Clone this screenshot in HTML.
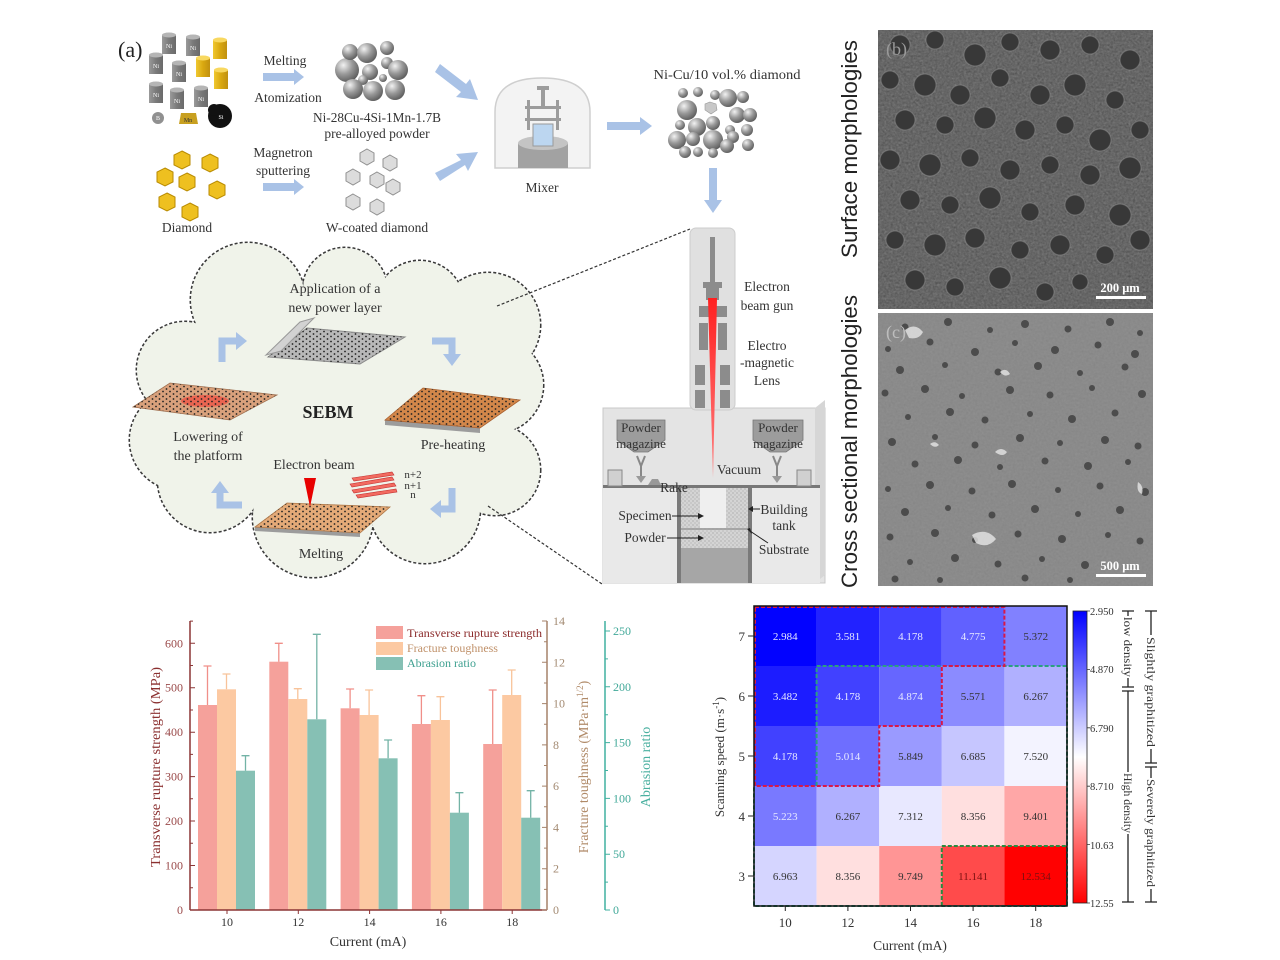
<!DOCTYPE html>
<html><head><meta charset="utf-8"><style>
html,body{margin:0;padding:0;background:#fff;}
svg{display:block;}
text{font-family:"Liberation Serif",serif;}
</style></head><body>
<svg width="1280" height="960" viewBox="0 0 1280 960" xmlns="http://www.w3.org/2000/svg">
<defs>
  <radialGradient id="sph" cx="0.35" cy="0.3" r="0.75">
    <stop offset="0" stop-color="#f2f2f2"/><stop offset="0.5" stop-color="#9a9a9a"/><stop offset="1" stop-color="#5a5a5a"/>
  </radialGradient>
  <linearGradient id="cylNi" x1="0" x2="1"><stop offset="0" stop-color="#9a9a9a"/><stop offset="0.5" stop-color="#7a7a7a"/><stop offset="1" stop-color="#6a6a6a"/></linearGradient>
  <linearGradient id="cylCu" x1="0" x2="1"><stop offset="0" stop-color="#f0c830"/><stop offset="0.5" stop-color="#d9a810"/><stop offset="1" stop-color="#c09010"/></linearGradient>
  <linearGradient id="beam" x1="0" x2="0" y1="0" y2="1"><stop offset="0" stop-color="#ff2020"/><stop offset="1" stop-color="#ff8080"/></linearGradient>
  <linearGradient id="cbar" x1="0" x2="0" y1="0" y2="1">
    <stop offset="0" stop-color="#0000ff"/><stop offset="0.5" stop-color="#ffffff"/><stop offset="1" stop-color="#ff0000"/>
  </linearGradient>
  <pattern id="dots" width="7" height="5" patternUnits="userSpaceOnUse">
    <circle cx="2" cy="1.5" r="0.9" fill="#222"/><circle cx="5.5" cy="4" r="0.9" fill="#222"/>
  </pattern>
  <pattern id="speck" width="4" height="4" patternUnits="userSpaceOnUse">
    <rect width="4" height="4" fill="#d4d4d4"/><circle cx="1" cy="1" r="0.6" fill="#9a9a9a"/><circle cx="3" cy="3" r="0.6" fill="#aaa"/>
  </pattern>
  <filter id="noise" x="0" y="0" width="1" height="1" color-interpolation-filters="sRGB">
    <feTurbulence type="fractalNoise" baseFrequency="0.45" numOctaves="2" seed="4"/>
    <feColorMatrix type="matrix" values="0.33 0.33 0.33 0 0  0.33 0.33 0.33 0 0  0.33 0.33 0.33 0 0  0 0 0 0 1"/>
  </filter>
  <g id="cloudc">
    <circle cx="248" cy="300" r="57"/><circle cx="345" cy="290" r="42"/><circle cx="420" cy="305" r="44"/>
    <circle cx="488" cy="325" r="52"/><circle cx="495" cy="385" r="48"/><circle cx="495" cy="470" r="45"/>
    <circle cx="425" cy="508" r="55"/><circle cx="313" cy="517" r="60"/><circle cx="210" cy="480" r="52"/>
    <circle cx="180" cy="440" r="50"/><circle cx="185" cy="370" r="48"/>
  </g>
</defs>
<rect width="1280" height="960" fill="#fff"/>

<!-- ===== (a) top row ===== -->
<text x="118" y="57" font-size="22" fill="#222">(a)</text>
<g font-size="6" fill="#fff" text-anchor="middle">
  <g><rect x="162" y="35" width="14" height="19" fill="url(#cylNi)"/><ellipse cx="169" cy="35" rx="7" ry="2.5" fill="#b5b5b5"/><text x="169" y="48">Ni</text></g>
  <g><rect x="186" y="37" width="14" height="19" fill="url(#cylNi)"/><ellipse cx="193" cy="37" rx="7" ry="2.5" fill="#b5b5b5"/><text x="193" y="50">Ni</text></g>
  <g><rect x="213" y="40" width="14" height="19" fill="url(#cylCu)"/><ellipse cx="220" cy="40" rx="7" ry="2.5" fill="#f8d860"/></g>
  <g><rect x="149" y="55" width="14" height="19" fill="url(#cylNi)"/><ellipse cx="156" cy="55" rx="7" ry="2.5" fill="#b5b5b5"/><text x="156" y="68">Ni</text></g>
  <g><rect x="172" y="63" width="14" height="19" fill="url(#cylNi)"/><ellipse cx="179" cy="63" rx="7" ry="2.5" fill="#b5b5b5"/><text x="179" y="76">Ni</text></g>
  <g><rect x="196" y="58" width="14" height="19" fill="url(#cylCu)"/><ellipse cx="203" cy="58" rx="7" ry="2.5" fill="#f8d860"/></g>
  <g><rect x="214" y="70" width="14" height="19" fill="url(#cylCu)"/><ellipse cx="221" cy="70" rx="7" ry="2.5" fill="#f8d860"/></g>
  <g><rect x="149" y="84" width="14" height="19" fill="url(#cylNi)"/><ellipse cx="156" cy="84" rx="7" ry="2.5" fill="#b5b5b5"/><text x="156" y="97">Ni</text></g>
  <g><rect x="170" y="90" width="14" height="19" fill="url(#cylNi)"/><ellipse cx="177" cy="90" rx="7" ry="2.5" fill="#b5b5b5"/><text x="177" y="103">Ni</text></g>
  <g><rect x="194" y="88" width="14" height="19" fill="url(#cylNi)"/><ellipse cx="201" cy="88" rx="7" ry="2.5" fill="#b5b5b5"/><text x="201" y="101">Ni</text></g>
  <circle cx="158" cy="118" r="6" fill="#909090"/><text x="158" y="120">B</text>
  <polygon points="179,124 181,113 196,113 198,124" fill="#c8a020"/><text x="188" y="122" fill="#333">Mn</text>
  <circle cx="220" cy="116" r="12" fill="#111"/><circle cx="214" cy="110" r="6" fill="#111"/><text x="221" y="119">Si</text>
</g>
<g fill="#a9c2e6">
  <polygon points="263,73 294,73 294,69 304,77 294,85 294,81 263,81"/>
  <polygon points="263,183 294,183 294,179 304,187 294,195 294,191 263,191"/>
  <polygon points="440,64 466,84 470,79 478,100 456,97 461,92 435,72"/>
  <polygon points="435,173 461,160 456,154 478,152 468,171 465,165 440,181"/>
  <polygon points="607,122 640,122 640,117 652,126 640,135 640,130 607,130"/>
  <polygon points="709,168 717,168 717,200 722,200 713,213 704,200 709,200"/>
</g>
<g font-size="13.5" fill="#333" text-anchor="middle">
  <text x="285" y="65">Melting</text>
  <text x="288" y="102">Atomization</text>
  <text x="377" y="122" textLength="128" lengthAdjust="spacingAndGlyphs">Ni-28Cu-4Si-1Mn-1.7B</text>
  <text x="377" y="138">pre-alloyed powder</text>
  <text x="283" y="157">Magnetron</text>
  <text x="283" y="175">sputtering</text>
  <text x="187" y="232">Diamond</text>
  <text x="377" y="232">W-coated diamond</text>
  <text x="542" y="192">Mixer</text>
  <text x="727" y="79" textLength="147" lengthAdjust="spacingAndGlyphs">Ni-Cu/10 vol.% diamond</text>
</g>
<g fill="url(#sph)">
  <circle cx="347" cy="70" r="12"/><circle cx="350" cy="52" r="8"/><circle cx="367" cy="53" r="10"/><circle cx="387" cy="48" r="7"/>
  <circle cx="370" cy="72" r="8"/><circle cx="387" cy="63" r="6"/><circle cx="398" cy="70" r="10"/><circle cx="363" cy="80" r="5"/>
  <circle cx="383" cy="78" r="4"/><circle cx="353" cy="89" r="10"/><circle cx="373" cy="91" r="10"/><circle cx="395" cy="90" r="10"/>
</g>
<g fill="url(#sph)">
  <circle cx="683" cy="93" r="5"/><circle cx="698" cy="92" r="5"/><circle cx="715" cy="95" r="5"/><circle cx="728" cy="98" r="9"/>
  <circle cx="743" cy="97" r="6"/><circle cx="687" cy="110" r="10"/><circle cx="737" cy="115" r="8"/><circle cx="750" cy="115" r="7"/>
  <circle cx="680" cy="125" r="5"/><circle cx="697" cy="127" r="9"/><circle cx="713" cy="123" r="7"/><circle cx="730" cy="130" r="5"/>
  <circle cx="747" cy="130" r="6"/><circle cx="677" cy="140" r="9"/><circle cx="693" cy="139" r="7"/><circle cx="713" cy="140" r="10"/>
  <circle cx="733" cy="137" r="6"/><circle cx="748" cy="145" r="6"/><circle cx="685" cy="152" r="6"/><circle cx="698" cy="152" r="5"/>
  <circle cx="727" cy="146" r="7"/><circle cx="713" cy="153" r="5"/>
</g>
<polygon points="710,102 716,104 717,110 711,114 705,110 705,104" fill="#c8c8c8" stroke="#999" stroke-width="0.6"/>
<g fill="#eec020" stroke="#b88a00" stroke-width="1">
  <polygon points="182,151 190,155 190,165 182,169 174,165 174,155"/>
  <polygon points="210,154 218,158 218,168 210,172 202,168 202,158"/>
  <polygon points="165,168 173,172 173,182 165,186 157,182 157,172"/>
  <polygon points="187,173 195,177 195,187 187,191 179,187 179,177"/>
  <polygon points="217,181 225,185 225,195 217,199 209,195 209,185"/>
  <polygon points="167,193 175,197 175,207 167,211 159,207 159,197"/>
  <polygon points="190,203 198,207 198,217 190,221 182,217 182,207"/>
</g>
<g fill="#dcdcdc" stroke="#909090" stroke-width="1">
  <polygon points="367,149 374,153 374,161 367,165 360,161 360,153"/>
  <polygon points="390,155 397,159 397,167 390,171 383,167 383,159"/>
  <polygon points="353,169 360,173 360,181 353,185 346,181 346,173"/>
  <polygon points="377,172 384,176 384,184 377,188 370,184 370,176"/>
  <polygon points="393,179 400,183 400,191 393,195 386,191 386,183"/>
  <polygon points="353,194 360,198 360,206 353,210 346,206 346,198"/>
  <polygon points="377,199 384,203 384,211 377,215 370,211 370,203"/>
</g>
<path d="M495,168 L495,112 Q495,78 542,78 Q590,78 590,112 L590,168 Z" fill="#f3f3f3" stroke="#cfcfcf" stroke-width="1.5"/>
<rect x="518" y="143" width="50" height="25" fill="#a2a2a2"/>
<ellipse cx="543" cy="143" rx="25" ry="7" fill="#c4c4c4"/>
<rect x="533" y="124" width="20" height="22" fill="#bcd6f0" stroke="#9a9a9a" stroke-width="1"/>
<g fill="#9c9c9c">
  <rect x="527" y="100" width="3" height="30"/><rect x="556" y="100" width="3" height="30"/>
  <rect x="525" y="106" width="36" height="3"/><rect x="525" y="118" width="36" height="3"/>
  <rect x="541" y="88" width="4" height="20"/><rect x="537" y="86" width="12" height="4"/>
</g>

<!-- ===== Cloud ===== -->
<use href="#cloudc" fill="none" stroke="#3a3a3a" stroke-width="3" stroke-dasharray="3 2"/>
<use href="#cloudc" fill="#f0f3ea"/>
<ellipse cx="335" cy="410" rx="160" ry="110" fill="#f0f3ea"/>
<polygon points="268,357 307,328 405,337 360,364" fill="#b8b8b8" stroke="#8a8a8a" stroke-width="1"/>
<polygon points="268,357 307,328 405,337 360,364" fill="url(#dots)"/>
<polygon points="266,355 300,322 314,318 281,351" fill="#d2d2d2" stroke="#999" stroke-width="1"/>
<polygon points="133,407 170,383 277,395 230,420" fill="#d9a17c" stroke="#a07050" stroke-width="0.8"/>
<ellipse cx="205" cy="401" rx="24" ry="6" fill="#ec5a4a" opacity="0.85"/>
<polygon points="133,407 170,383 277,395 230,420" fill="url(#dots)"/>
<polygon points="385,420 480,428 480,433 385,425" fill="#9c9c9c"/>
<polygon points="385,420 423,388 520,400 480,428" fill="#d3874a" stroke="#a86030" stroke-width="0.8"/>
<polygon points="385,420 423,388 520,400 480,428" fill="url(#dots)"/>
<polygon points="255,527 360,533 360,537 255,531" fill="#9c9c9c"/>
<polygon points="255,527 287,503 390,507 360,533" fill="#e4aa78" stroke="#b07848" stroke-width="0.8"/>
<polygon points="255,527 287,503 390,507 360,533" fill="url(#dots)"/>
<polygon points="304,478 316,478 310,507" fill="#e80000"/>
<g fill="#f26a60" stroke="#c03030" stroke-width="0.6">
  <polygon points="352,478 392,472 394,475 354,481"/>
  <polygon points="350,484 392,477 394,480 352,487"/>
  <polygon points="352,490 394,483 396,486 354,493"/>
  <polygon points="356,495 396,489 397,492 358,498"/>
</g>
<g stroke="#a9c2e6" stroke-width="7" fill="none">
  <polyline points="222,362 222,341 237,341"/>
  <polyline points="432,341 452,341 452,355"/>
  <polyline points="452,488 452,509 440,509"/>
  <polyline points="242,505 220,505 220,492"/>
</g>
<g fill="#a9c2e6">
  <polygon points="236,332 247,341 236,350"/>
  <polygon points="443,354 452,366 461,354"/>
  <polygon points="441,500 430,509 441,518"/>
  <polygon points="211,493 220,481 229,493"/>
</g>
<g font-size="14" fill="#333" text-anchor="middle">
  <text x="335" y="293">Application of a</text>
  <text x="335" y="312">new power layer</text>
  <text x="328" y="418" font-size="18" font-weight="bold" fill="#222">SEBM</text>
  <text x="208" y="441">Lowering of</text>
  <text x="208" y="460">the platform</text>
  <text x="453" y="449">Pre-heating</text>
  <text x="314" y="469">Electron beam</text>
  <text x="321" y="558">Melting</text>
  <text x="413" y="478" font-size="11">n+2</text>
  <text x="413" y="489" font-size="11">n+1</text>
  <text x="413" y="498" font-size="11">n</text>
</g>
<g stroke="#333" stroke-width="1.2" stroke-dasharray="3 2">
  <line x1="497" y1="306" x2="690" y2="229"/>
  <line x1="488" y1="506" x2="602" y2="584"/>
</g>

<!-- ===== Machine ===== -->
<rect x="603" y="408" width="222" height="175" fill="#e4e4e4" stroke="#c8c8c8"/>
<polygon points="815,408 825,400 825,575 815,583" fill="#d6d6d6"/>
<rect x="603" y="487" width="217" height="96" fill="#e9e9e9"/>
<rect x="690" y="228" width="45" height="182" rx="6" fill="#e0e0e0" stroke="#cdcdcd"/>
<g fill="#8c8c8c">
  <rect x="710" y="237" width="5" height="45"/>
  <rect x="703" y="282" width="19" height="6"/>
  <rect x="706" y="288" width="13" height="12"/>
  <rect x="699" y="306" width="28" height="11"/>
  <rect x="699" y="323" width="9" height="27"/><rect x="718" y="323" width="9" height="27"/>
  <rect x="695" y="365" width="10" height="20"/><rect x="720" y="365" width="10" height="20"/>
  <rect x="695" y="390" width="10" height="18"/><rect x="720" y="390" width="10" height="18"/>
</g>
<polygon points="708,298 717,298 713,478" fill="url(#beam)"/>
<rect x="603" y="485" width="217" height="3" fill="#777"/>
<g fill="#9c9c9c" stroke="#777" stroke-width="0.8">
  <polygon points="617,420 665,420 665,440 648,452 634,452 617,440"/>
  <polygon points="753,420 803,420 803,440 786,452 770,452 753,440"/>
</g>
<g stroke="#888" stroke-width="2" fill="none">
  <polyline points="637,456 641,466 645,456"/><line x1="641" y1="466" x2="641" y2="478"/>
  <polyline points="773,456 777,466 781,456"/><line x1="777" y1="466" x2="777" y2="478"/>
</g>
<g fill="#999"><polygon points="636,476 646,476 641,483"/><polygon points="772,476 782,476 777,483"/></g>
<rect x="608" y="470" width="14" height="16" fill="#d0d0d0" stroke="#888"/>
<rect x="797" y="470" width="14" height="16" fill="#d0d0d0" stroke="#888"/>
<polygon points="648,485 652,479 658,479 661,485" fill="#999"/>
<rect x="677" y="488" width="4" height="95" fill="#7a7a7a"/><rect x="748" y="488" width="4" height="95" fill="#7a7a7a"/>
<rect x="681" y="488" width="67" height="60" fill="url(#speck)"/>
<rect x="700" y="488" width="26" height="40" fill="#efefef"/>
<line x1="681" y1="529" x2="748" y2="529" stroke="#777" stroke-width="1"/>
<rect x="681" y="548" width="67" height="35" fill="#a6a6a6"/>
<g stroke="#222" stroke-width="1">
  <line x1="672" y1="516" x2="698" y2="516"/><line x1="667" y1="538" x2="698" y2="538"/>
  <line x1="760" y1="509" x2="752" y2="509"/><line x1="768" y1="543" x2="750" y2="531"/>
</g>
<g fill="#222"><polygon points="698,513 704,516 698,519"/><polygon points="698,535 704,538 698,541"/><polygon points="753,506 748,509 753,512"/><polygon points="750,528 747,529 752,534"/></g>
<g font-size="13.5" fill="#333" text-anchor="middle">
  <text x="767" y="291">Electron</text><text x="767" y="310">beam gun</text>
  <text x="767" y="350">Electro</text><text x="767" y="367">-magnetic</text><text x="767" y="385">Lens</text>
  <text x="641" y="432" font-size="13">Powder</text><text x="641" y="448" font-size="13">magazine</text>
  <text x="778" y="432" font-size="13">Powder</text><text x="778" y="448" font-size="13">magazine</text>
  <text x="739" y="474">Vacuum</text>
  <text x="674" y="492">Rake</text>
  <text x="645" y="520">Specimen</text>
  <text x="645" y="542">Powder</text>
  <text x="784" y="514">Building</text><text x="784" y="530">tank</text>
  <text x="784" y="554">Substrate</text>
</g>

<!-- ===== SEM panels ===== -->
<text transform="translate(857,258) rotate(-90)" font-size="22" fill="#222" style="font-family:'Liberation Sans',sans-serif" textLength="218" lengthAdjust="spacingAndGlyphs">Surface morphologies</text>
<text transform="translate(857,588) rotate(-90)" font-size="22" fill="#222" style="font-family:'Liberation Sans',sans-serif" textLength="293" lengthAdjust="spacingAndGlyphs">Cross sectional morphologies</text>
<rect x="878" y="30" width="275" height="279" fill="#5c5c5c"/>
<rect x="878" y="30" width="275" height="279" filter="url(#noise)" opacity="0.3"/>
<g fill="#383838" stroke="#a8a8a8" stroke-width="1.2" stroke-opacity="0.35">
<circle cx="900" cy="45" r="10"/><circle cx="935" cy="40" r="9"/><circle cx="975" cy="55" r="11"/><circle cx="1010" cy="42" r="9"/><circle cx="1050" cy="50" r="10"/><circle cx="1090" cy="45" r="9"/><circle cx="1130" cy="60" r="10"/>
<circle cx="890" cy="80" r="9"/><circle cx="925" cy="85" r="11"/><circle cx="960" cy="95" r="10"/><circle cx="1000" cy="78" r="9"/><circle cx="1040" cy="95" r="10"/><circle cx="1075" cy="85" r="11"/><circle cx="1115" cy="100" r="9"/>
<circle cx="905" cy="120" r="10"/><circle cx="945" cy="125" r="9"/><circle cx="985" cy="118" r="11"/><circle cx="1025" cy="130" r="10"/><circle cx="1065" cy="125" r="9"/><circle cx="1100" cy="140" r="11"/><circle cx="1140" cy="130" r="9"/>
<circle cx="890" cy="160" r="10"/><circle cx="930" cy="165" r="11"/><circle cx="970" cy="158" r="9"/><circle cx="1010" cy="170" r="10"/><circle cx="1050" cy="165" r="9"/><circle cx="1090" cy="175" r="10"/><circle cx="1130" cy="168" r="11"/>
<circle cx="910" cy="200" r="10"/><circle cx="950" cy="205" r="9"/><circle cx="990" cy="198" r="11"/><circle cx="1030" cy="212" r="9"/><circle cx="1075" cy="205" r="10"/><circle cx="1120" cy="215" r="11"/>
<circle cx="895" cy="240" r="9"/><circle cx="935" cy="245" r="11"/><circle cx="975" cy="238" r="10"/><circle cx="1020" cy="250" r="9"/><circle cx="1060" cy="245" r="10"/><circle cx="1105" cy="255" r="9"/><circle cx="1140" cy="240" r="10"/>
<circle cx="915" cy="280" r="10"/><circle cx="955" cy="287" r="9"/><circle cx="1000" cy="278" r="11"/><circle cx="1045" cy="292" r="9"/><circle cx="1080" cy="282" r="8"/>
</g>
<text x="886" y="55" font-size="18" fill="#9a9a9a">(b)</text>
<text x="1120" y="292" font-size="12.5" font-weight="bold" fill="#fff" text-anchor="middle">200 μm</text>
<rect x="1096" y="296" width="50" height="3" fill="#fff"/>

<rect x="878" y="313" width="275" height="273" fill="#8c8c8c"/>
<rect x="878" y="313" width="275" height="273" filter="url(#noise)" opacity="0.08"/>
<g fill="#4c4c4c">
<circle cx="905" cy="327" r="3.5"/><circle cx="948" cy="322" r="4"/><circle cx="990" cy="330" r="3"/><circle cx="1025" cy="324" r="4"/><circle cx="1068" cy="329" r="3.5"/><circle cx="1110" cy="322" r="4"/><circle cx="1140" cy="333" r="3"/>
<circle cx="888" cy="349" r="3"/><circle cx="930" cy="342" r="3.5"/><circle cx="975" cy="352" r="4"/><circle cx="1015" cy="343" r="3"/><circle cx="1055" cy="350" r="4"/><circle cx="1098" cy="345" r="3.5"/><circle cx="1135" cy="354" r="4"/>
<circle cx="900" cy="370" r="4"/><circle cx="945" cy="365" r="3"/><circle cx="998" cy="372" r="3.5"/><circle cx="1038" cy="366" r="4"/><circle cx="1080" cy="373" r="3"/><circle cx="1125" cy="367" r="3.5"/>
<circle cx="885" cy="393" r="3.5"/><circle cx="925" cy="389" r="4"/><circle cx="962" cy="396" r="3"/><circle cx="1010" cy="390" r="4"/><circle cx="1050" cy="395" r="3.5"/><circle cx="1092" cy="388" r="3"/><circle cx="1142" cy="394" r="4"/>
<circle cx="908" cy="417" r="3"/><circle cx="950" cy="412" r="4"/><circle cx="985" cy="420" r="3.5"/><circle cx="1030" cy="414" r="3"/><circle cx="1072" cy="419" r="4"/><circle cx="1115" cy="413" r="3.5"/>
<circle cx="892" cy="442" r="4"/><circle cx="935" cy="437" r="3"/><circle cx="975" cy="445" r="3.5"/><circle cx="1020" cy="438" r="4"/><circle cx="1060" cy="443" r="3"/><circle cx="1105" cy="440" r="4"/><circle cx="1138" cy="446" r="3.5"/>
<circle cx="915" cy="464" r="3.5"/><circle cx="958" cy="460" r="4"/><circle cx="1000" cy="467" r="3"/><circle cx="1045" cy="461" r="3.5"/><circle cx="1088" cy="466" r="4"/><circle cx="1128" cy="462" r="3"/>
<circle cx="888" cy="489" r="3"/><circle cx="930" cy="485" r="4"/><circle cx="972" cy="491" r="3.5"/><circle cx="1012" cy="484" r="4"/><circle cx="1058" cy="490" r="3"/><circle cx="1100" cy="486" r="3.5"/><circle cx="1145" cy="492" r="4"/>
<circle cx="905" cy="512" r="4"/><circle cx="948" cy="508" r="3"/><circle cx="992" cy="515" r="3.5"/><circle cx="1035" cy="509" r="4"/><circle cx="1078" cy="514" r="3"/><circle cx="1120" cy="510" r="4"/>
<circle cx="890" cy="537" r="3.5"/><circle cx="935" cy="533" r="4"/><circle cx="975" cy="540" r="3"/><circle cx="1018" cy="534" r="3.5"/><circle cx="1062" cy="539" r="4"/><circle cx="1108" cy="535" r="3"/><circle cx="1140" cy="541" r="3.5"/>
<circle cx="910" cy="562" r="3"/><circle cx="955" cy="558" r="4"/><circle cx="998" cy="564" r="3.5"/><circle cx="1042" cy="559" r="3"/><circle cx="1085" cy="565" r="4"/>
<circle cx="895" cy="579" r="3.5"/><circle cx="940" cy="580" r="3"/><circle cx="1025" cy="578" r="3.5"/><circle cx="1070" cy="580" r="3"/>
</g>
<g fill="#e6e6e6" opacity="0.8">
  <path d="M905,330 q10,-8 18,2 q-4,8 -14,6 z"/><path d="M995,452 q6,-6 12,0 q-4,6 -12,0 z"/>
  <path d="M972,535 q14,-8 24,4 q-8,10 -20,4 z"/><path d="M1138,482 q6,4 4,12 q-6,-2 -4,-12 z"/>
  <path d="M1000,372 q6,-5 10,2 q-5,4 -10,-2 z"/><path d="M930,444 q5,-4 9,1 q-4,4 -9,-1 z"/>
</g>
<text x="886" y="338" font-size="18" fill="#bdbdbd">(c)</text>
<text x="1120" y="570" font-size="12.5" font-weight="bold" fill="#fff" text-anchor="middle">500 μm</text>
<rect x="1096" y="574" width="50" height="3" fill="#fff"/>

<!-- ===== Bar chart ===== -->
<g fill="#f5a19b">
  <rect x="198" y="705" width="19" height="205"/><rect x="269.3" y="661.7" width="19" height="248.3"/>
  <rect x="340.6" y="708.3" width="19" height="201.7"/><rect x="411.9" y="724" width="19" height="186"/>
  <rect x="483.2" y="744" width="19" height="166"/>
</g>
<g fill="#fcc9a2">
  <rect x="217" y="689.3" width="19" height="220.7"/><rect x="288.3" y="699" width="19" height="211"/>
  <rect x="359.6" y="715" width="19" height="195"/><rect x="430.9" y="720" width="19" height="190"/>
  <rect x="502.2" y="695" width="19" height="215"/>
</g>
<g fill="#86c0b4">
  <rect x="236" y="770.7" width="19" height="139.3"/><rect x="307.3" y="719.3" width="19" height="190.7"/>
  <rect x="378.6" y="758.3" width="19" height="151.7"/><rect x="449.9" y="812.7" width="19" height="97.3"/>
  <rect x="521.2" y="817.7" width="19" height="92.3"/>
</g>
<g stroke="#f08f89" stroke-width="1.3">
  <path d="M207.5,705V666M203.5,666h8 M278.8,661.7V643.3M274.8,643.3h8 M350.1,708.3V689M346.1,689h8 M421.4,724V695.7M417.4,695.7h8 M492.7,744V690M488.7,690h8"/>
</g>
<g stroke="#f8c39a" stroke-width="1.3">
  <path d="M226.5,689.3V674M222.5,674h8 M297.8,699V688.7M293.8,688.7h8 M369.1,715V690M365.1,690h8 M440.4,720V696.7M436.4,696.7h8 M511.7,695V670M507.7,670h8"/>
</g>
<g stroke="#73b3a6" stroke-width="1.3">
  <path d="M245.5,770.7V755.7M241.5,755.7h8 M316.8,719.3V634.3M312.8,634.3h8 M388.1,758.3V740M384.1,740h8 M459.4,812.7V792.7M455.4,792.7h8 M530.7,817.7V790.7M526.7,790.7h8"/>
</g>
<line x1="190" y1="621" x2="190" y2="910" stroke="#8b3535" stroke-width="1.5"/>
<line x1="190" y1="910" x2="547" y2="910" stroke="#8b3535" stroke-width="1.5"/>
<line x1="547" y1="621" x2="547" y2="910" stroke="#a5826a" stroke-width="1.5"/>
<line x1="605" y1="621" x2="605" y2="910" stroke="#40b0a0" stroke-width="1.5"/>
<g stroke="#8b3535" stroke-width="1">
  <path d="M190,910h5M190,865.5h5M190,821h5M190,776.6h5M190,732.2h5M190,687.7h5M190,643.3h5"/>
  <path d="M190,887.8h3M190,843.3h3M190,798.8h3M190,754.4h3M190,710h3M190,665.5h3M190,621.1h3"/>
  <path d="M227,910v4M298.3,910v4M369.6,910v4M440.9,910v4M512.2,910v4"/>
</g>
<g stroke="#a5826a" stroke-width="1">
  <path d="M547,910h-5M547,868.7h-5M547,827.4h-5M547,786.1h-5M547,744.9h-5M547,703.6h-5M547,662.3h-5M547,621h-5"/>
  <path d="M547,889.4h-3M547,848.1h-3M547,806.8h-3M547,765.5h-3M547,724.2h-3M547,683h-3M547,641.7h-3"/>
</g>
<g stroke="#40b0a0" stroke-width="1">
  <path d="M605,910h5M605,854.2h5M605,798.4h5M605,742.6h5M605,686.8h5M605,631h5"/>
  <path d="M605,882.1h3M605,826.3h3M605,770.5h3M605,714.7h3M605,658.9h3"/>
</g>
<g font-size="12" fill="#9a4a4a" text-anchor="end">
  <text x="183" y="914">0</text><text x="183" y="869.5">100</text><text x="183" y="825">200</text><text x="183" y="780.6">300</text>
  <text x="183" y="736.2">400</text><text x="183" y="691.7">500</text><text x="183" y="647.3">600</text>
</g>
<g font-size="12" fill="#a38a72">
  <text x="553" y="914">0</text><text x="553" y="872.7">2</text><text x="553" y="831.4">4</text><text x="553" y="790.1">6</text>
  <text x="553" y="748.9">8</text><text x="553" y="707.6">10</text><text x="553" y="666.3">12</text><text x="553" y="625">14</text>
</g>
<g font-size="12" fill="#40a898">
  <text x="613" y="914">0</text><text x="613" y="858.2">50</text><text x="613" y="802.4">100</text><text x="613" y="746.6">150</text>
  <text x="613" y="690.8">200</text><text x="613" y="635">250</text>
</g>
<g font-size="12" fill="#333" text-anchor="middle">
  <text x="227" y="926">10</text><text x="298.3" y="926">12</text><text x="369.6" y="926">14</text><text x="440.9" y="926">16</text><text x="512.2" y="926">18</text>
</g>
<text x="368" y="946" font-size="14" fill="#333" text-anchor="middle">Current (mA)</text>
<text transform="translate(160,767) rotate(-90)" font-size="14" fill="#8b3030" text-anchor="middle" textLength="200" lengthAdjust="spacingAndGlyphs">Transverse rupture strength (MPa)</text>
<text transform="translate(588,767) rotate(-90)" font-size="14" fill="#b08a68" text-anchor="middle">Fracture toughness (MPa·m<tspan font-size="9" dy="-5">1/2</tspan><tspan dy="5">)</tspan></text>
<text transform="translate(650,767) rotate(-90)" font-size="14" fill="#4ab0a0" text-anchor="middle">Abrasion ratio</text>
<rect x="376" y="626" width="27" height="13" fill="#f5a19b"/>
<rect x="376" y="642" width="27" height="13" fill="#fcc9a2"/>
<rect x="376" y="657" width="27" height="13" fill="#86c0b4"/>
<text x="407" y="637" font-size="12" fill="#8b2a2a" textLength="135" lengthAdjust="spacingAndGlyphs">Transverse rupture strength</text>
<text x="407" y="652" font-size="12" fill="#c0916a">Fracture toughness</text>
<text x="407" y="667" font-size="12" fill="#3ea090">Abrasion ratio</text>

<!-- ===== Heatmap ===== -->
<g>
  <rect x="754" y="606" width="62.6" height="60" fill="rgb(2,2,255)"/>
  <rect x="816.6" y="606" width="62.6" height="60" fill="rgb(34,34,255)"/>
  <rect x="879.2" y="606" width="62.6" height="60" fill="rgb(65,65,255)"/>
  <rect x="941.8" y="606" width="62.6" height="60" fill="rgb(97,97,255)"/>
  <rect x="1004.4" y="606" width="62.6" height="60" fill="rgb(129,129,255)"/>
  <rect x="754" y="666" width="62.6" height="60" fill="rgb(28,28,255)"/>
  <rect x="816.6" y="666" width="62.6" height="60" fill="rgb(65,65,255)"/>
  <rect x="879.2" y="666" width="62.6" height="60" fill="rgb(102,102,255)"/>
  <rect x="941.8" y="666" width="62.6" height="60" fill="rgb(139,139,255)"/>
  <rect x="1004.4" y="666" width="62.6" height="60" fill="rgb(176,176,255)"/>
  <rect x="754" y="726" width="62.6" height="60" fill="rgb(65,65,255)"/>
  <rect x="816.6" y="726" width="62.6" height="60" fill="rgb(110,110,255)"/>
  <rect x="879.2" y="726" width="62.6" height="60" fill="rgb(154,154,255)"/>
  <rect x="941.8" y="726" width="62.6" height="60" fill="rgb(198,198,255)"/>
  <rect x="1004.4" y="726" width="62.6" height="60" fill="rgb(243,243,255)"/>
  <rect x="754" y="786" width="62.6" height="60" fill="rgb(121,121,255)"/>
  <rect x="816.6" y="786" width="62.6" height="60" fill="rgb(176,176,255)"/>
  <rect x="879.2" y="786" width="62.6" height="60" fill="rgb(232,232,255)"/>
  <rect x="941.8" y="786" width="62.6" height="60" fill="rgb(255,223,223)"/>
  <rect x="1004.4" y="786" width="62.6" height="60" fill="rgb(255,167,167)"/>
  <rect x="754" y="846" width="62.6" height="60" fill="rgb(213,213,255)"/>
  <rect x="816.6" y="846" width="62.6" height="60" fill="rgb(255,223,223)"/>
  <rect x="879.2" y="846" width="62.6" height="60" fill="rgb(255,149,149)"/>
  <rect x="941.8" y="846" width="62.6" height="60" fill="rgb(255,75,75)"/>
  <rect x="1004.4" y="846" width="62.6" height="60" fill="rgb(255,1,1)"/>
</g>
<g font-size="11" text-anchor="middle">
  <g fill="#e6e8ff">
    <text x="785.3" y="640">2.984</text><text x="847.9" y="640">3.581</text><text x="910.5" y="640">4.178</text><text x="973.1" y="640">4.775</text>
    <text x="785.3" y="700">3.482</text><text x="847.9" y="700">4.178</text><text x="910.5" y="700">4.874</text>
    <text x="785.3" y="760">4.178</text><text x="847.9" y="760">5.014</text><text x="785.3" y="820">5.223</text>
  </g>
  <g fill="#333">
    <text x="1035.7" y="640">5.372</text><text x="973.1" y="700">5.571</text><text x="1035.7" y="700">6.267</text>
    <text x="910.5" y="760">5.849</text><text x="973.1" y="760">6.685</text><text x="1035.7" y="760">7.520</text>
    <text x="847.9" y="820">6.267</text><text x="910.5" y="820">7.312</text><text x="973.1" y="820">8.356</text><text x="1035.7" y="820">9.401</text>
    <text x="785.3" y="880">6.963</text><text x="847.9" y="880">8.356</text><text x="910.5" y="880">9.749</text>
  </g>
  <g fill="#7a1010"><text x="973.1" y="880">11.141</text><text x="1035.7" y="880">12.534</text></g>
</g>
<polyline points="816.6,786 816.6,666 1067,666 1067,906 754,906 754,786" fill="none" stroke="#2aa080" stroke-width="2" stroke-dasharray="4 2"/>
<polyline points="941.8,906 941.8,846 1067,846" fill="none" stroke="#2a8a40" stroke-width="2" stroke-dasharray="4 2"/>
<polygon points="755,607 1004.4,607 1004.4,666 941.8,666 941.8,726 879.2,726 879.2,786 755,786" fill="none" stroke="#d81848" stroke-width="2" stroke-dasharray="4 2"/>
<rect x="754" y="606" width="313" height="300" fill="none" stroke="#111" stroke-width="1.5"/>
<g stroke="#222" stroke-width="1">
  <path d="M748,636h6M748,696h6M748,756h6M748,816h6M748,876h6"/>
  <path d="M785.3,906v5M847.9,906v5M910.5,906v5M973.1,906v5M1035.7,906v5"/>
</g>
<g font-size="13" fill="#333">
  <g text-anchor="end"><text x="745" y="641">7</text><text x="745" y="701">6</text><text x="745" y="761">5</text><text x="745" y="821">4</text><text x="745" y="881">3</text></g>
  <g text-anchor="middle"><text x="785.3" y="927">10</text><text x="847.9" y="927">12</text><text x="910.5" y="927">14</text><text x="973.1" y="927">16</text><text x="1035.7" y="927">18</text></g>
</g>
<text x="910" y="950" font-size="13.5" fill="#333" text-anchor="middle">Current (mA)</text>
<text transform="translate(724,757) rotate(-90)" font-size="13" fill="#333" text-anchor="middle">Scanning speed (m·s<tspan font-size="9" dy="-5">-1</tspan><tspan dy="5">)</tspan></text>
<rect x="1073" y="611" width="14" height="292" fill="url(#cbar)" stroke="#222" stroke-width="0.8"/>
<g stroke="#333" stroke-width="0.8"><path d="M1087,611h3M1087,669.4h3M1087,727.8h3M1087,786.2h3M1087,844.6h3M1087,903h3"/></g>
<g font-size="10.5" fill="#333">
  <text x="1090" y="615">2.950</text><text x="1090" y="673">4.870</text><text x="1090" y="732">6.790</text>
  <text x="1090" y="790">8.710</text><text x="1090" y="849">10.63</text><text x="1090" y="907">12.55</text>
</g>
<g stroke="#222" stroke-width="1.3">
  <path d="M1122,611h12M1128,611v5M1128,678v9M1122,687h12M1122,691h12M1128,691v81M1128,834v68M1122,902h12"/>
  <path d="M1145,611h12M1151,611v24M1151,749v14M1145,763h12M1145,767h12M1151,767v11M1151,889v13M1145,902h12"/>
</g>
<g font-size="12" fill="#333" text-anchor="middle">
  <text transform="translate(1128,647) rotate(90)" dominant-baseline="central" textLength="60" lengthAdjust="spacingAndGlyphs">low density</text>
  <text transform="translate(1128,803) rotate(90)" dominant-baseline="central" textLength="60" lengthAdjust="spacingAndGlyphs">High density</text>
  <text transform="translate(1151,692) rotate(90)" dominant-baseline="central" textLength="110" lengthAdjust="spacingAndGlyphs">Slightly graphitized</text>
  <text transform="translate(1151,833) rotate(90)" dominant-baseline="central" textLength="108" lengthAdjust="spacingAndGlyphs">Severely graphitized</text>
</g>
</svg>
</body></html>
